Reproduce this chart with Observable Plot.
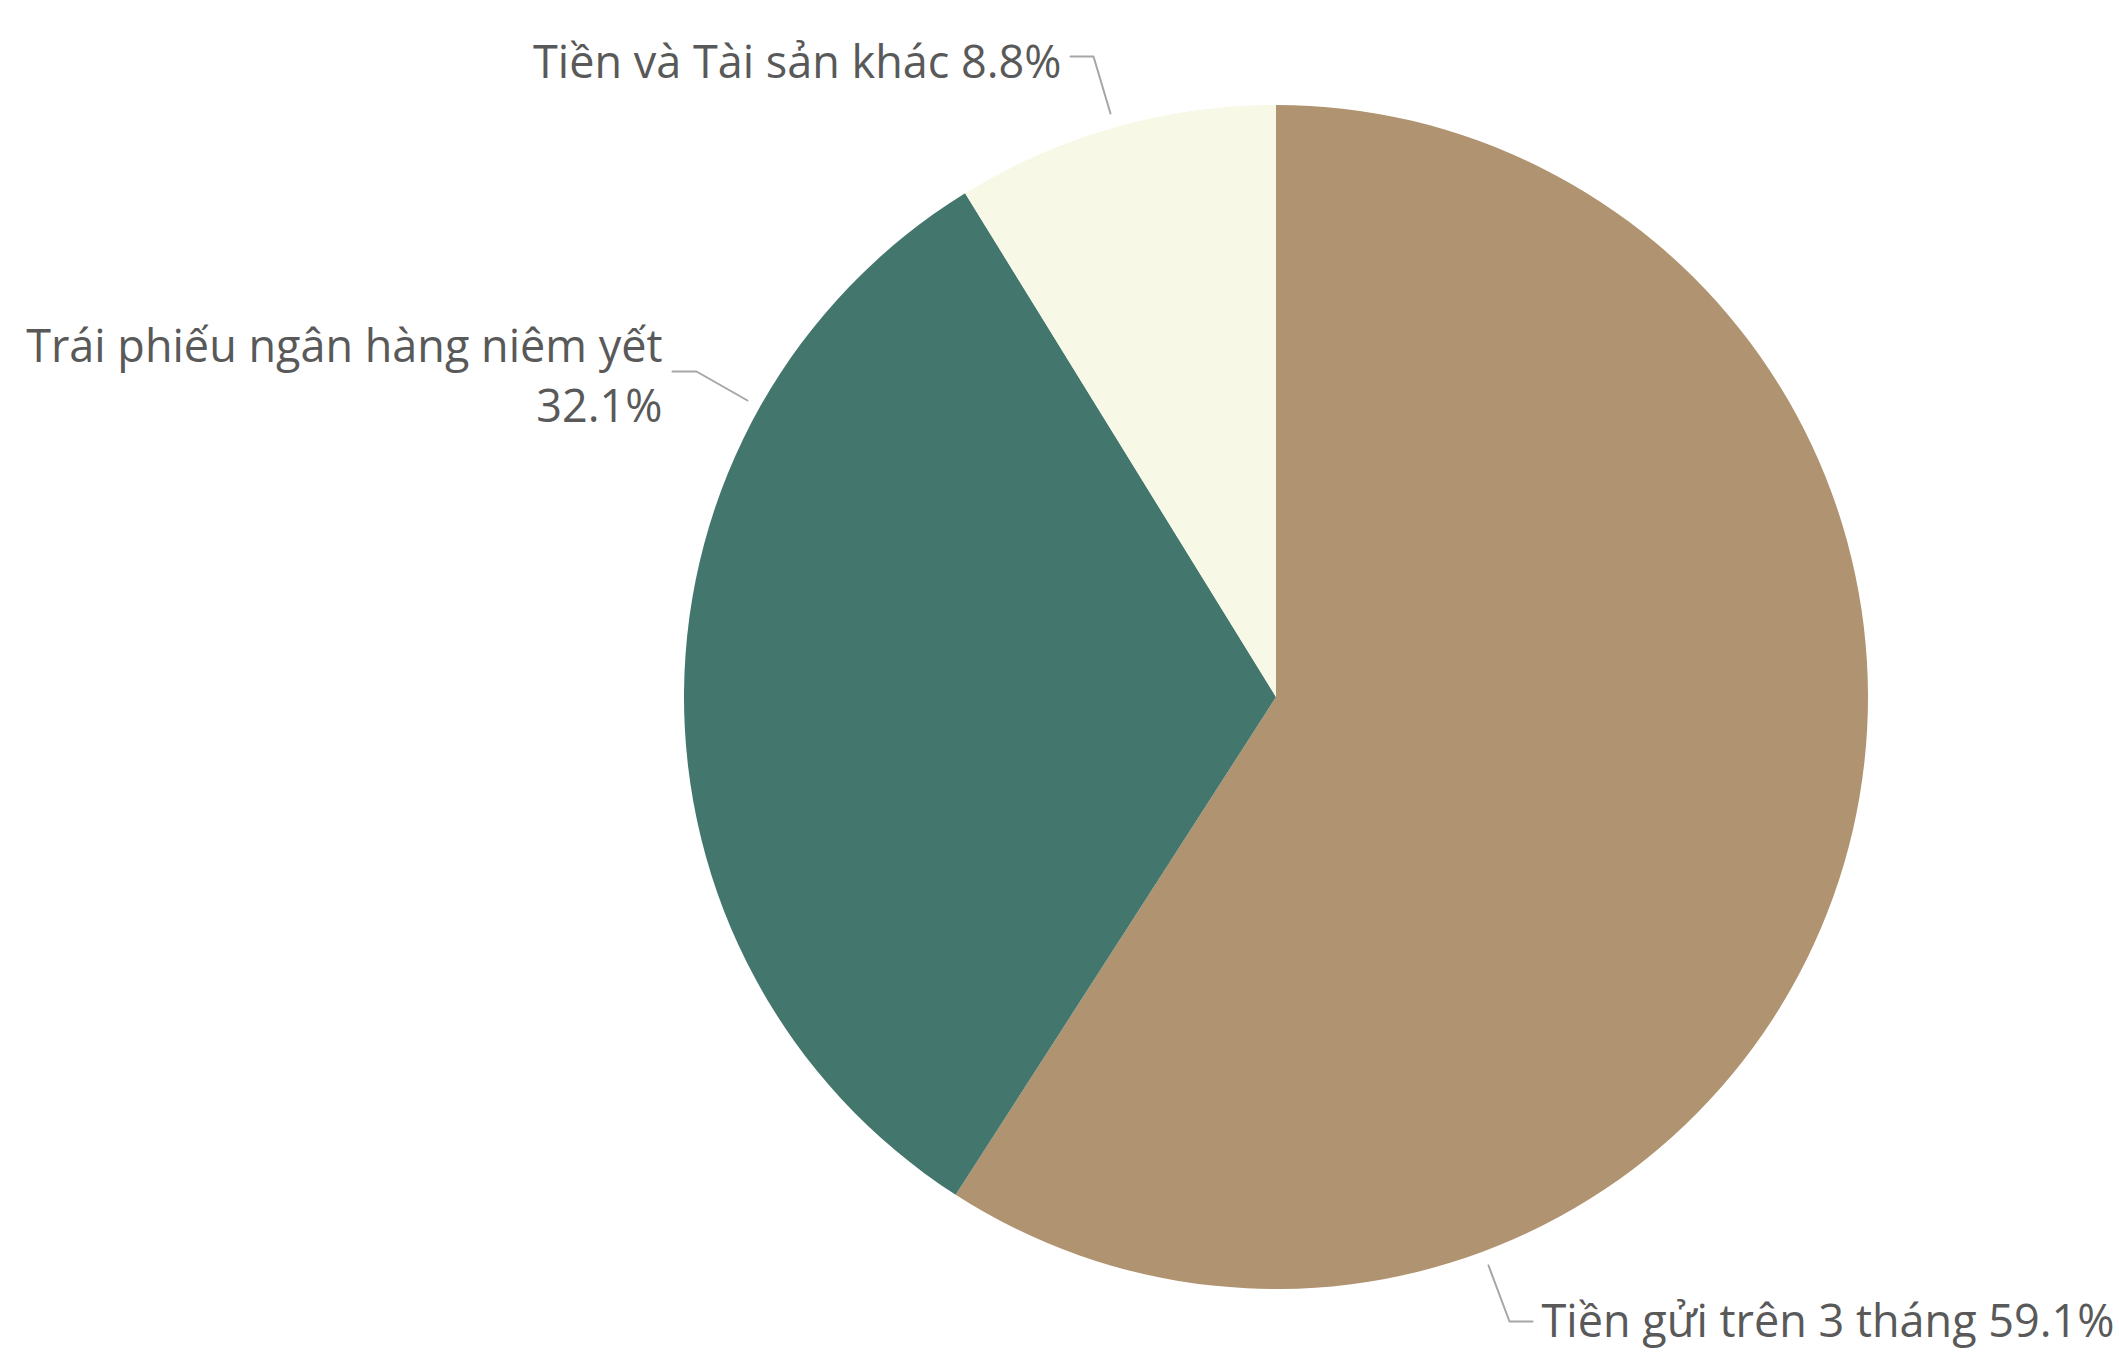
<!DOCTYPE html>
<html>
<head>
<meta charset="utf-8">
<script src="https://cdn.jsdelivr.net/npm/d3@7"></script>
<script src="https://cdn.jsdelivr.net/npm/@observablehq/plot@0.6"></script>
<style>
  html, body { margin: 0; padding: 0; background: #ffffff; }
  #chart svg { display: block; }
</style>
</head>
<body>
<div id="chart"></div>
<script>
// ---- data ----
const categories = ["Tiền gửi trên 3 tháng", "Trái phiếu ngân hàng niêm yết", "Tiền và Tài sản khác"];
const shares = [59.1, 32.1, 8.8];
const labelTexts = ["Tiền gửi trên 3 tháng 59.1%", "Trái phiếu ngân hàng niêm yết\n32.1%", "Tiền và Tài sản khác 8.8%"];
const sliceColors = ["#b09370", "#43766d", "#f7f8e6"];

// ---- layout (pixels) ----
const W = 2119, H = 1353;
const center = [1276, 697];
const radius = 592;
const labelAnchor = [[1541, 1317, "start"], [662, 372, "end"], [1061, 58, "end"]];
const leaders = [
  [[1488, 1265], [1509, 1321], [1532, 1321]],
  [[672, 371], [696, 371], [747, 400]],
  [[1070, 56], [1093, 56], [1110, 113]]
];

const slices = categories.map((c, i) => ({category: c, share: shares[i], color: sliceColors[i], label: labelTexts[i]}));
const pie = d3.pie().value(d => d.share).sort(null)(slices);

const labelRows = slices.map((d, i) => ({label: d.label, x: labelAnchor[i][0], y: labelAnchor[i][1], anchor: labelAnchor[i][2]}));
const leaderRows = leaders.flatMap((pts, i) => pts.map(p => ({id: i, x: p[0], y: p[1]})));

const pieMark = (index, scales) => {
  const g = d3.create("svg:g")
    .attr("transform", `translate(${scales.x(center[0])},${scales.y(center[1])})`);
  const arc = d3.arc().innerRadius(0).outerRadius(radius);
  g.selectAll("path").data(pie).join("path")
    .attr("d", arc)
    .attr("fill", d => d.data.color);
  return g.node();
};

const chart = Plot.plot({
  width: W,
  height: H,
  margin: 0,
  x: {domain: [0, W], range: [0, W], axis: null},
  y: {domain: [0, H], range: [0, H], axis: null},
  style: {fontFamily: "'Open Sans', 'Noto Sans', sans-serif", background: "#ffffff"},
  marks: [
    pieMark,
    Plot.line(leaderRows, {x: "x", y: "y", z: "id", stroke: "#a6a6a6", strokeWidth: 2, curve: "linear"}),
    Plot.text(labelRows.filter(d => d.anchor === "end"), {x: "x", y: "y", text: "label", textAnchor: "end", lineAnchor: "middle", fontSize: 45, lineHeight: 1.33, fill: "#595959"}),
    Plot.text(labelRows.filter(d => d.anchor === "start"), {x: "x", y: "y", text: "label", textAnchor: "start", lineAnchor: "middle", fontSize: 45, lineHeight: 1.33, fill: "#595959"})
  ]
});
document.getElementById("chart").appendChild(chart);
</script>
</body>
</html>
